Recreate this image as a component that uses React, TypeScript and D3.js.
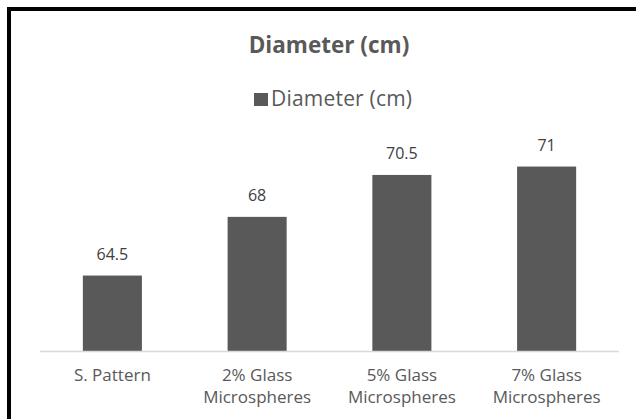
import React from "react";
import * as d3 from "d3";

const categories: string[][] = [
  ["S. Pattern"],
  ["2% Glass", "Microspheres"],
  ["5% Glass", "Microspheres"],
  ["7% Glass", "Microspheres"],
];
const values: number[] = [64.5, 68, 70.5, 71];
const valueLabels: string[] = ["64.5", "68", "70.5", "71"];
const seriesName = "Diameter (cm)";
const title = "Diameter (cm)";

const W = 636;
const H = 419;
const FONT = "'Open Sans', 'Lato', sans-serif";

export default function App() {
  const x = d3
    .scaleBand<number>()
    .domain(values.map((_, i) => i))
    .range([40, 619])
    .paddingInner(0.592)
    .paddingOuter(0.296);
  const y = d3.scaleLinear().domain([60, 72]).range([351, 149.8]);

  return (
    <div style={{ position: "fixed", left: 0, top: 0, width: W, height: H, background: "#fff", overflow: "hidden" }}>
      <svg width={W} height={H} style={{ display: "block" }}>
        <rect x={0} y={0} width={W} height={H} fill="#fff" />
        <path d={`M9,${H + 10} V9 H${W + 10}`} fill="none" stroke="#000" strokeWidth={4} />
        <text x={329} y={53} textAnchor="middle" fontFamily={FONT} fontWeight={700} fontSize={22.5} fill="#595959">
          {title}
        </text>
        <rect x={254} y={93} width={14} height={13} fill="#595959" />
        <text x={271} y={106} fontFamily={FONT} fontSize={21} letterSpacing={0.2} fill="#595959">
          {seriesName}
        </text>
        {values.map((v, i) => (
          <rect key={"b" + i} x={x(i)!} y={y(v)} width={x.bandwidth()} height={y(60) - y(v)} fill="#595959" />
        ))}
        <line x1={40} x2={619} y1={y(60) + 0.5} y2={y(60) + 0.5} stroke="#d9d9d9" strokeWidth={1.5} />
        {values.map((v, i) => (
          <text
            key={"v" + i}
            x={x(i)! + x.bandwidth() / 2}
            y={y(v) - 16}
            textAnchor="middle"
            fontFamily={FONT}
            fontSize={16}
            fill="#404040"
          >
            {valueLabels[i]}
          </text>
        ))}
        {categories.map((lines, i) => (
          <text
            key={"c" + i}
            x={x(i)! + x.bandwidth() / 2}
            y={381}
            textAnchor="middle"
            fontFamily={FONT}
            fontSize={17}
            fill="#595959"
          >
            {lines.map((l, j) => (
              <tspan key={j} x={x(i)! + x.bandwidth() / 2} dy={j === 0 ? 0 : 21.5}>
                {l}
              </tspan>
            ))}
          </text>
        ))}
      </svg>
    </div>
  );
}
